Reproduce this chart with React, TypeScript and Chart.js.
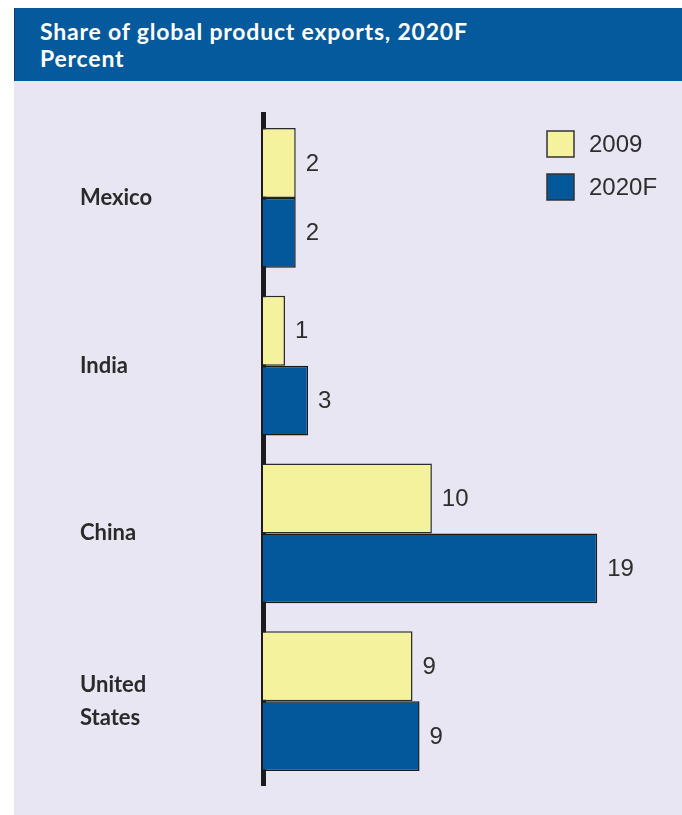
import React, { useEffect, useRef } from "react";
import { Chart, registerables } from "chart.js";

Chart.register(...registerables);

const categories: (string | string[])[] = ["Mexico", "India", "China", ["United", "States"]];
const seriesNames = ["2009", "2020F"];
const values2009 = [1.86, 1.25, 9.6, 8.5];
const values2020F = [1.86, 2.56, 19.0, 8.9];
const seriesColors = ["#f4f29c", "#03579b"];

const NUM_FONT = "'Liberation Sans', Arial, sans-serif";
const LABEL_FONT = "Lato, 'DejaVu Sans', sans-serif";

const overlayPlugin = {
  id: "overlay",
  afterDraw(chart: any) {
    const ctx = chart.ctx;
    ctx.save();
    ctx.font = `24px ${NUM_FONT}`;
    ctx.fillStyle = "#2e2e2e";
    ctx.textAlign = "left";
    ctx.textBaseline = "middle";
    chart.data.datasets.forEach((ds: any, di: number) => {
      const meta = chart.getDatasetMeta(di);
      meta.data.forEach((el: any, i: number) => {
        const v = ds.data[i];
        ctx.fillText(String(Math.round(v)), el.x + 10, el.y + 1);
      });
    });
    // legend
    const lx = 533;
    const ly = [50, 93];
    chart.data.datasets.forEach((ds: any, di: number) => {
      ctx.fillStyle = ds.backgroundColor;
      ctx.fillRect(lx, ly[di], 27, 26);
      ctx.lineWidth = 1.5;
      ctx.strokeStyle = "#333";
      ctx.strokeRect(lx, ly[di], 27, 26);
      ctx.fillStyle = "#2e2e2e";
      ctx.fillText(ds.label, lx + 42, ly[di] + 14);
    });
    ctx.restore();
  },
};

export default function App() {
  const ref = useRef<HTMLCanvasElement | null>(null);
  useEffect(() => {
    if (!ref.current) return;
    const chart = new Chart(ref.current, {
      type: "bar",
      data: {
        labels: categories as any,
        datasets: [
          {
            label: seriesNames[0],
            data: values2009,
            backgroundColor: seriesColors[0],
            borderColor: "#2a2a2a",
            borderWidth: 1.5,
          },
          {
            label: seriesNames[1],
            data: values2020F,
            backgroundColor: seriesColors[1],
            borderColor: "#1a1a1a",
            borderWidth: 1.5,
          },
        ],
      },
      options: {
        indexAxis: "y",
        animation: false,
        responsive: false,
        devicePixelRatio: 1,
        datasets: { bar: { categoryPercentage: 0.833, barPercentage: 1.0 } },
        layout: { padding: { left: 66, right: 32, top: 32, bottom: 30 } },
        plugins: { legend: { display: false }, tooltip: { enabled: false }, title: { display: false } },
        scales: {
          x: {
            display: false,
            min: 0,
            max: 22,
          },
          y: {
            z: 1,
            grid: { display: false, drawTicks: false },
            border: { display: true, width: 5, color: "#1c1a1a" },
            ticks: {
              crossAlign: "far",
              padding: 0,
              color: "#2a2a2a",
              font: { family: LABEL_FONT, size: 22, weight: "bold", lineHeight: 1.5 },
            },
            afterFit(scale: any) {
              scale.width = 183;
            },
          },
        },
      },
      plugins: [overlayPlugin],
    });
    return () => chart.destroy();
  }, []);

  return (
    <div style={{ position: "absolute", left: 0, top: 0, width: 682, height: 815, background: "#ffffff", overflow: "hidden" }}>
      <div
        style={{
          position: "absolute",
          left: 14,
          top: 8,
          width: 668,
          height: 73,
          background: "#045a9c",
          borderLeft: "1px solid #1a3a6a",
          boxSizing: "border-box",
          color: "#ffffff",
          fontFamily: LABEL_FONT,
          fontWeight: "bold",
          fontSize: 23,
          letterSpacing: "0.8px",
          lineHeight: "27px",
          padding: "10px 0 0 25px",
        }}
      >
        <div>Share of global product exports, 2020F</div>
        <div>Percent</div>
      </div>
      <div style={{ position: "absolute", left: 14, top: 81, width: 668, height: 734, background: "#e8e6f2" }}>
        <canvas ref={ref} width={668} height={734} style={{ display: "block" }} />
      </div>
    </div>
  );
}
